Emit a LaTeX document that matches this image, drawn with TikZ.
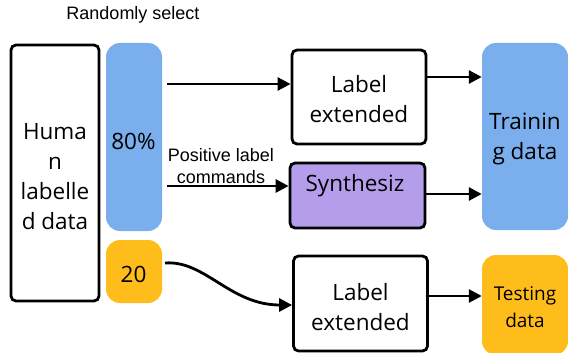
\documentclass[tikz,border=0pt]{standalone}
\usepackage{fontspec}
\setmainfont{Open Sans}
\newfontfamily\arialf{Liberation Sans}
\usetikzlibrary{arrows.meta}
\definecolor{cblue}{HTML}{7BAEEC}
\definecolor{corange}{HTML}{FFBD1B}
\definecolor{cpurple}{HTML}{B49DEA}
\begin{document}
\begin{tikzpicture}[x=1pt,y=-1pt,
  box/.style={draw=black, line width=2.8pt, rounded corners=5pt, inner sep=0pt},
  fbox/.style={rounded corners=14pt, draw=none, inner sep=0pt},
  arr/.style={-{Triangle[length=13pt,width=13pt]}, line width=2.8pt},
  lbl/.style={font=\fontsize{22.5}{30}\selectfont, align=center, inner sep=0pt},
  small/.style={font=\arialf\fontsize{18}{21.5}\selectfont, align=center, inner sep=0pt}]
\useasboundingbox (0,0) rectangle (568,353);

\node[small] (rs) at (133,15) {Randomly select};

\node[box, fill=white, minimum width=88pt, minimum height=256pt] (human) at (55,173) {};
\node[lbl] (humant) at (55,177) {Huma\\n\\labelle\\d data};

\node[fbox, fill=cblue, minimum width=56pt, minimum height=188pt] (p80) at (134,137) {};
\node[lbl] (p80t) at (133.5,141) {80\%};

\node[fbox, fill=corange, minimum width=56pt, minimum height=63pt] (p20) at (134,271.5) {};
\node[lbl] (p20t) at (133.5,274) {20};

\node[box, fill=white, minimum width=134pt, minimum height=94pt] (le1) at (359,97) {};
\node[lbl] (le1t) at (359,99) {Label\\extended};

\node[box, fill=cpurple, minimum width=135pt, minimum height=65pt] (syn) at (357.5,195.5) {};
\node[lbl] (synt) at (355,186) {Synthesiz};

\node[box, fill=white, minimum width=134pt, minimum height=95pt] (le2) at (360.5,303.5) {};
\node[lbl] (le2t) at (360.5,307) {Label\\extended};

\node[fbox, fill=cblue, minimum width=86pt, minimum height=187pt] (train) at (525,136.5) {};
\node[lbl] (traint) at (525,138.5) {Trainin\\g data};

\node[fbox, fill=corange, minimum width=86pt, minimum height=100pt] (test) at (525,305) {};
\node[lbl, font=\fontsize{19}{27}\selectfont] (testt) at (525,307) {Testing\\data};

\coordinate (a1s) at (167,84);
\coordinate (a2s) at (167,186);
\coordinate (a3s) at (165,263);
\node[small] (pos) at (221,166) {Positive label\\commands};

\draw[arr] (a1s) -- (le1.west |- a1s);
\draw[arr] (a2s) -- (syn.west |- a2s);
\draw[arr] (a3s) .. controls (205,260) and (230,305) .. (le2.west |- 0,305);
\draw[arr] (le1.east |- 0,77) -- (train.west |- 0,77);
\draw[arr] (syn.east |- 0,194) -- (train.west |- 0,194);
\draw[arr] (le2.east |- 0,296) -- (test.west |- 0,296);
\end{tikzpicture}
\end{document}
